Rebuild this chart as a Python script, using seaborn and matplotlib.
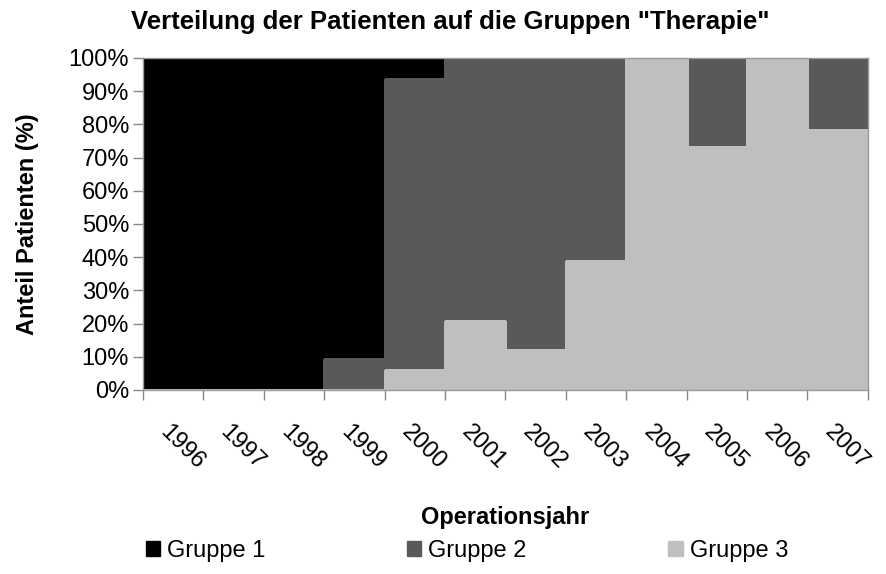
import numpy as np
import pandas as pd
import matplotlib
matplotlib.use("Agg")
import matplotlib.pyplot as plt
import seaborn as sns
from matplotlib.patches import Patch
from matplotlib.ticker import PercentFormatter, FixedLocator
from matplotlib.transforms import ScaledTranslation

# Anteile je Operationsjahr (%)
jahre = ["1996", "1997", "1998", "1999", "2000", "2001",
         "2002", "2003", "2004", "2005", "2006", "2007"]
gruppe1 = [100, 100, 100, 90.7, 6.4, 0, 0, 0, 0, 0, 0, 0]
gruppe2 = [0, 0, 0, 9.3, 87.6, 79.1, 88.0, 61.1, 0, 26.9, 0, 21.8]
gruppe3 = [0, 0, 0, 0, 6.0, 20.9, 12.0, 38.9, 100, 73.1, 100, 78.2]

farben = {"Gruppe 1": "#000000", "Gruppe 2": "#595959", "Gruppe 3": "#BFBFBF"}

df = pd.DataFrame({"Jahr": jahre, "Gruppe 1": gruppe1,
                   "Gruppe 2": gruppe2, "Gruppe 3": gruppe3})
# stacked from the bottom: Gruppe 3, Gruppe 2, Gruppe 1
df["oben3"] = df["Gruppe 3"]
df["oben2"] = df["Gruppe 3"] + df["Gruppe 2"]
df["oben1"] = df["oben2"] + df["Gruppe 1"]

sns.set_theme(style="white")
plt.rcParams["font.family"] = ["Liberation Sans", "DejaVu Sans"]
plt.rcParams["text.color"] = "black"
plt.rcParams["axes.labelcolor"] = "black"

fs = 17

fig = plt.figure(figsize=(8.86, 5.74), dpi=100)
ax = fig.add_axes([0.1614, 0.3206, 0.818, 0.5784])

for col, grp in [("oben1", "Gruppe 1"), ("oben2", "Gruppe 2"), ("oben3", "Gruppe 3")]:
    sns.barplot(data=df, x="Jahr", y=col, order=jahre, color=farben[grp],
                width=1.0, saturation=1, edgecolor=farben[grp], linewidth=1.0,
                antialiased=False, ax=ax)

ax.set_xlim(-0.5, len(jahre) - 0.5)
ax.set_ylim(0, 100)
ax.set_yticks(np.arange(0, 101, 10))
ax.yaxis.set_major_formatter(PercentFormatter(decimals=0))

# ticks at bar boundaries, labels at the centres
ax.xaxis.set_major_locator(FixedLocator(np.arange(-0.5, len(jahre), 1)))
ax.set_xticklabels([])
ax.xaxis.set_minor_locator(FixedLocator(np.arange(len(jahre))))
ax.set_xticklabels(jahre, minor=True, rotation=-45, ha="center", rotation_mode="default")
ax.tick_params(axis="x", which="major", length=7, color="#888888", width=1, direction="out", bottom=True)
ax.tick_params(axis="x", which="minor", length=0, pad=22, labelsize=fs, labelcolor="black")
ax.tick_params(axis="y", length=7, color="#888888", width=1, direction="out", left=True,
               labelsize=fs, labelcolor="black", pad=3)
shift = ScaledTranslation(0.09, 0, fig.dpi_scale_trans)
for lbl in ax.get_xticklabels(minor=True):
    lbl.set_transform(lbl.get_transform() + shift)

for s in ax.spines.values():
    s.set_color("#999999")
    s.set_linewidth(1)

ax.set_xlabel("")
ax.set_ylabel("Anteil Patienten (%)", fontsize=fs, fontweight="bold")
ax.yaxis.set_label_coords(-0.143, 0.5)

fig.text(0.508, 0.962, 'Verteilung der Patienten auf die Gruppen "Therapie"',
         ha="center", va="center", fontsize=18.5, fontweight="bold")
fig.text(0.57, 0.098, "Operationsjahr", ha="center", va="center",
         fontsize=fs, fontweight="bold")

handles = [Patch(facecolor=farben[g], edgecolor=farben[g], label=g) for g in farben]
fig.legend(handles=handles, loc="center", bbox_to_anchor=(0.527, 0.04), ncol=3,
           frameon=False, fontsize=fs, handlelength=0.6, handleheight=0.6,
           handletextpad=0.3, columnspacing=6.0)

fig.savefig("out.png", dpi=100)
